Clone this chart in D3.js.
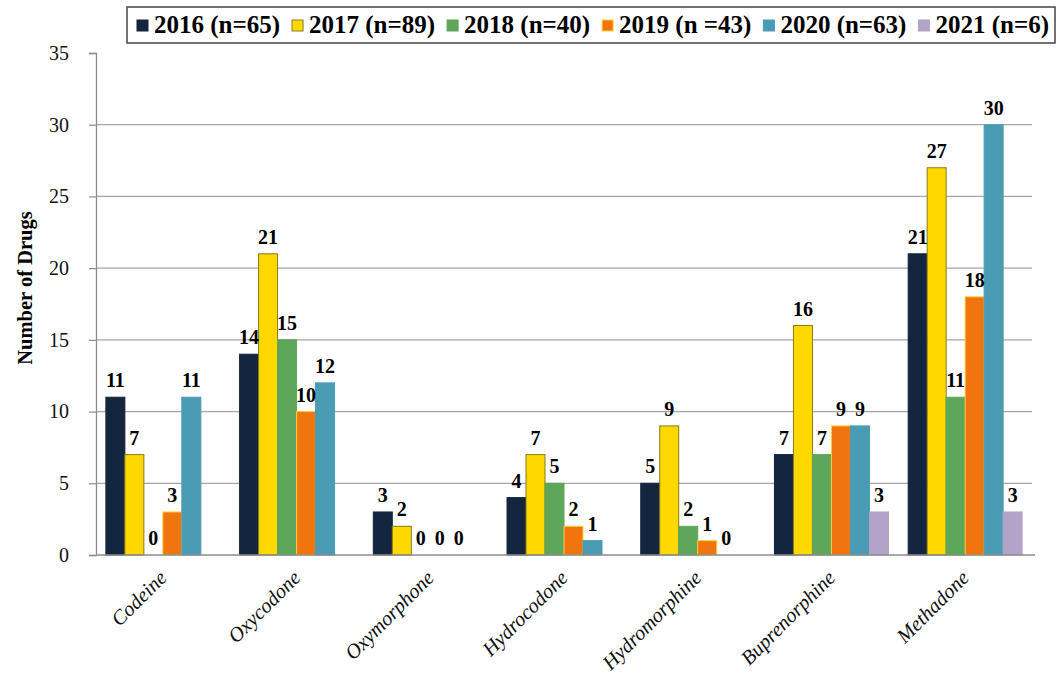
<!DOCTYPE html>
<html>
<head>
<meta charset="utf-8">
<script src="https://cdn.jsdelivr.net/npm/d3@7/dist/d3.min.js"></script>
<style>
  html, body { margin: 0; padding: 0; background: #fff; }
  svg { display: block; }
  text { font-family: "Liberation Serif", "Times New Roman", serif; }
</style>
</head>
<body>
<svg id="chart" width="1058" height="680"></svg>
<script>
// Opioid drugs counted per year
const drugs = ["Codeine", "Oxycodone", "Oxymorphone", "Hydrocodone", "Hydromorphine", "Buprenorphine", "Methadone"];
const years = ["2016 (n=65)", "2017 (n=89)", "2018 (n=40)", "2019 (n =43)", "2020 (n=63)", "2021 (n=6)"];

// One array per year, in drug order (null = no bar, no label)
const y2016 = [11, 14, 3, 4, 5, 7, 21];
const y2017 = [7, 21, 2, 7, 9, 16, 27];
const y2018 = [0, 15, 0, 5, 2, 7, 11];
const y2019 = [3, 10, 0, 2, 1, 9, 18];
const y2020 = [11, 12, 0, 1, 0, 9, 30];
const y2021 = [null, null, null, null, null, 3, 3];
const seriesValues = [y2016, y2017, y2018, y2019, y2020, y2021];

const yTicks = [0, 5, 10, 15, 20, 25, 30, 35];

const fills   = ["#14253f", "#ffd800", "#5ea65a", "#f0750f", "#4a9bb4", "#b2a3c9"];
const strokes = ["#14253f", "#8a7a1a", "#5ea65a", "#ffcf3a", "#4a9bb4", "#b2a3c9"];

const svg = d3.select("#chart");
const plot = { left: 96, right: 1032, top: 53, bottom: 555 };

const x0 = d3.scaleBand().domain(drugs).range([plot.left, plot.right]).padding(0);
const x1 = d3.scaleBand().domain(d3.range(years.length)).range([0, x0.bandwidth()])
  .paddingInner(0).paddingOuter(0.52);
const y = d3.scaleLinear().domain([0, 35]).range([plot.bottom, plot.top]);

// horizontal gridlines
svg.append("g").selectAll("line").data(yTicks.filter(t => t > 0 && t < 35)).join("line")
  .attr("x1", plot.left).attr("x2", plot.right)
  .attr("y1", d => y(d)).attr("y2", d => y(d))
  .attr("stroke", "#a6a6a6").attr("stroke-width", 1.2);

// y axis
const yAxis = svg.append("g").attr("transform", `translate(${plot.left},0)`)
  .call(d3.axisLeft(y).tickValues(yTicks).tickSize(7).tickPadding(20).tickFormat(d3.format("d")));
yAxis.select(".domain").attr("stroke", "#8c8c8c").attr("stroke-width", 1.3);
yAxis.selectAll(".tick line").attr("stroke", "#8c8c8c").attr("stroke-width", 1.2);
yAxis.selectAll(".tick text").attr("font-family", "Liberation Serif, serif")
  .attr("font-size", 20).attr("fill", "#111");

// bars
const rows = [];
drugs.forEach((d, i) => seriesValues.forEach((s, j) => {
  if (s[i] !== null) rows.push({ drug: d, k: j, v: s[i] });
}));

svg.append("g").selectAll("rect").data(rows.filter(r => r.v > 0)).join("rect")
  .attr("x", r => x0(r.drug) + x1(r.k))
  .attr("y", r => y(r.v))
  .attr("width", x1.bandwidth())
  .attr("height", r => y(0) - y(r.v))
  .attr("fill", r => fills[r.k])
  .attr("stroke", r => strokes[r.k])
  .attr("stroke-width", 1);

// x axis line
svg.append("line")
  .attr("x1", plot.left).attr("x2", plot.right + 3)
  .attr("y1", plot.bottom).attr("y2", plot.bottom)
  .attr("stroke", "#8c8c8c").attr("stroke-width", 1.5);

// value labels
svg.append("g").selectAll("text").data(rows).join("text")
  .attr("x", r => x0(r.drug) + x1(r.k) + x1.bandwidth() / 2)
  .attr("y", r => y(r.v) - 10)
  .attr("text-anchor", "middle")
  .attr("font-size", 20).attr("font-weight", "bold").attr("fill", "#000")
  .text(r => r.v);

// category labels, slanted
svg.append("g").selectAll("text").data(drugs).join("text")
  .attr("transform", d => `translate(${x0(d) + x0.bandwidth() / 2 + 5},579) rotate(-45)`)
  .attr("text-anchor", "end")
  .attr("font-size", 20.5).attr("font-style", "italic").attr("fill", "#111")
  .text(d => d);

// y axis title
svg.append("text")
  .attr("transform", "translate(32,288) rotate(-90)")
  .attr("text-anchor", "middle")
  .attr("font-size", 20.5).attr("font-weight", "bold").attr("fill", "#000")
  .text("Number of Drugs");

// legend
const legend = svg.append("g");
legend.append("rect")
  .attr("x", 127).attr("y", 7).attr("width", 928).attr("height", 36)
  .attr("fill", "#fff").attr("stroke", "#444").attr("stroke-width", 1.5);

const items = legend.selectAll("g.item").data(years).join("g").attr("class", "item");
items.append("rect")
  .attr("width", 11).attr("height", 11).attr("y", 20)
  .attr("fill", (d, i) => fills[i])
  .attr("stroke", (d, i) => strokes[i]).attr("stroke-width", 1);
items.append("text")
  .attr("y", 33)
  .attr("font-size", 25).attr("font-weight", "bold").attr("fill", "#000")
  .text(d => d);

// spread entries between the box edges
const widths = [];
items.select("text").each(function () { widths.push(this.getComputedTextLength()); });
const sq = 11, gapIn = 6, startX = 137, endX = 1049;
const used = d3.sum(widths) + years.length * (sq + gapIn);
const gapOut = (endX - startX - used) / (years.length - 1);
let cx = startX;
items.each(function (d, i) {
  const g = d3.select(this);
  g.select("rect").attr("x", cx);
  g.select("text").attr("x", cx + sq + gapIn);
  cx += sq + gapIn + widths[i] + gapOut;
});
</script>
</body>
</html>
